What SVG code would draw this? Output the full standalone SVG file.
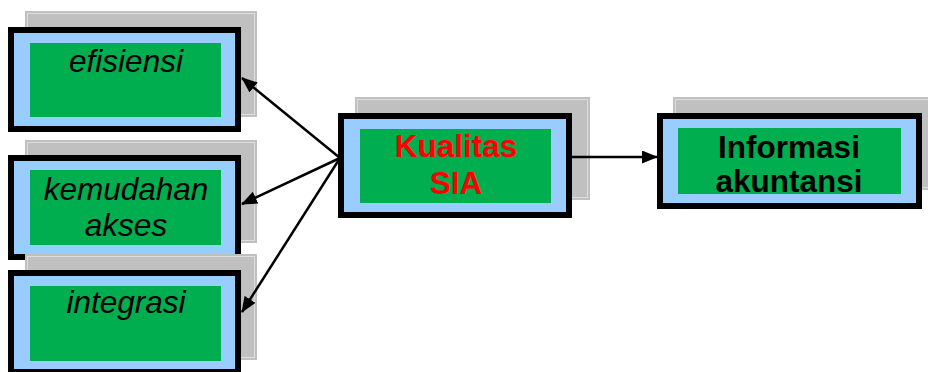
<svg xmlns="http://www.w3.org/2000/svg" width="928" height="372" viewBox="0 0 928 372">
  <style>
    .shadow { fill: #c0c0c0; }
    .shadow-edge { fill: none; stroke: #dedede; stroke-width: 1; }
    .frame { fill: #99ccff; stroke: #000000; stroke-width: 6; }
    .core { fill: #00ad4f; }
    .it { font-family: "Liberation Sans", Arial, sans-serif; font-style: italic; font-size: 31.5px; fill: #000000; text-anchor: middle; }
    .bd { font-family: "Liberation Sans", Arial, sans-serif; font-weight: bold; font-size: 31.5px; text-anchor: middle; }
    .link { stroke: #000000; stroke-width: 2.5; fill: none; marker-end: url(#head); }
  </style>
  <defs>
    <marker id="head" viewBox="0 0 16 13" refX="15" refY="6.5" markerWidth="16" markerHeight="13" markerUnits="userSpaceOnUse" orient="auto">
      <path d="M0,0 L16,6.5 L0,13 Z" fill="#000000"/>
    </marker>
  </defs>

  <!-- node: efisiensi -->
  <g id="efisiensi">
    <rect class="shadow" x="25" y="11" width="232" height="106"/>
    <rect class="shadow-edge" x="27.5" y="13.5" width="227" height="101"/>
    <rect class="frame" x="11" y="30" width="227" height="99"/>
    <rect class="core" x="30" y="43" width="191" height="74"/>
    <text class="it" x="126" y="72">efisiensi</text>
  </g>

  <!-- node: kemudahan akses -->
  <g id="kemudahan-akses">
    <rect class="shadow" x="25" y="140" width="232" height="103"/>
    <rect class="shadow-edge" x="27.5" y="142.5" width="227" height="98"/>
    <rect class="frame" x="11" y="158" width="227" height="99"/>
    <rect class="core" x="30" y="170" width="191" height="75"/>
    <text class="it" x="126" y="200">kemudahan</text>
    <text class="it" x="126" y="236">akses</text>
  </g>

  <!-- node: integrasi -->
  <g id="integrasi">
    <rect class="shadow" x="25" y="254" width="232" height="106"/>
    <rect class="shadow-edge" x="27.5" y="256.5" width="227" height="101"/>
    <rect class="frame" x="11" y="273" width="227" height="99"/>
    <rect class="core" x="30" y="286" width="191" height="75"/>
    <text class="it" x="126" y="313">integrasi</text>
  </g>

  <!-- node: Kualitas SIA -->
  <g id="kualitas-sia">
    <rect class="shadow" x="355" y="97" width="235" height="103"/>
    <rect class="shadow-edge" x="357.5" y="99.5" width="230" height="98"/>
    <rect class="frame" x="341" y="116" width="228" height="99"/>
    <rect class="core" x="360" y="129" width="191" height="74"/>
    <text class="bd" x="456" y="157" fill="#ff0000">Kualitas</text>
    <text class="bd" x="456" y="194" fill="#ff0000">SIA</text>
  </g>

  <!-- node: Informasi akuntansi -->
  <g id="informasi-akuntansi">
    <rect class="shadow" x="673" y="97" width="258" height="93"/>
    <rect class="shadow-edge" x="675.5" y="99.5" width="256" height="88"/>
    <rect class="frame" x="660" y="116" width="259" height="90"/>
    <rect class="core" x="678" y="128" width="223" height="66"/>
    <text class="bd" x="789" y="158" fill="#000000">Informasi</text>
    <text class="bd" x="789" y="192" fill="#000000">akuntansi</text>
  </g>

  <!-- connectors -->
  <g id="connectors">
    <line class="link" x1="340" y1="158" x2="242" y2="78"/>
    <line class="link" x1="340" y1="158" x2="242" y2="204"/>
    <line class="link" x1="340" y1="158" x2="242" y2="312"/>
    <line class="link" x1="572" y1="157" x2="657" y2="157"/>
  </g>
</svg>
